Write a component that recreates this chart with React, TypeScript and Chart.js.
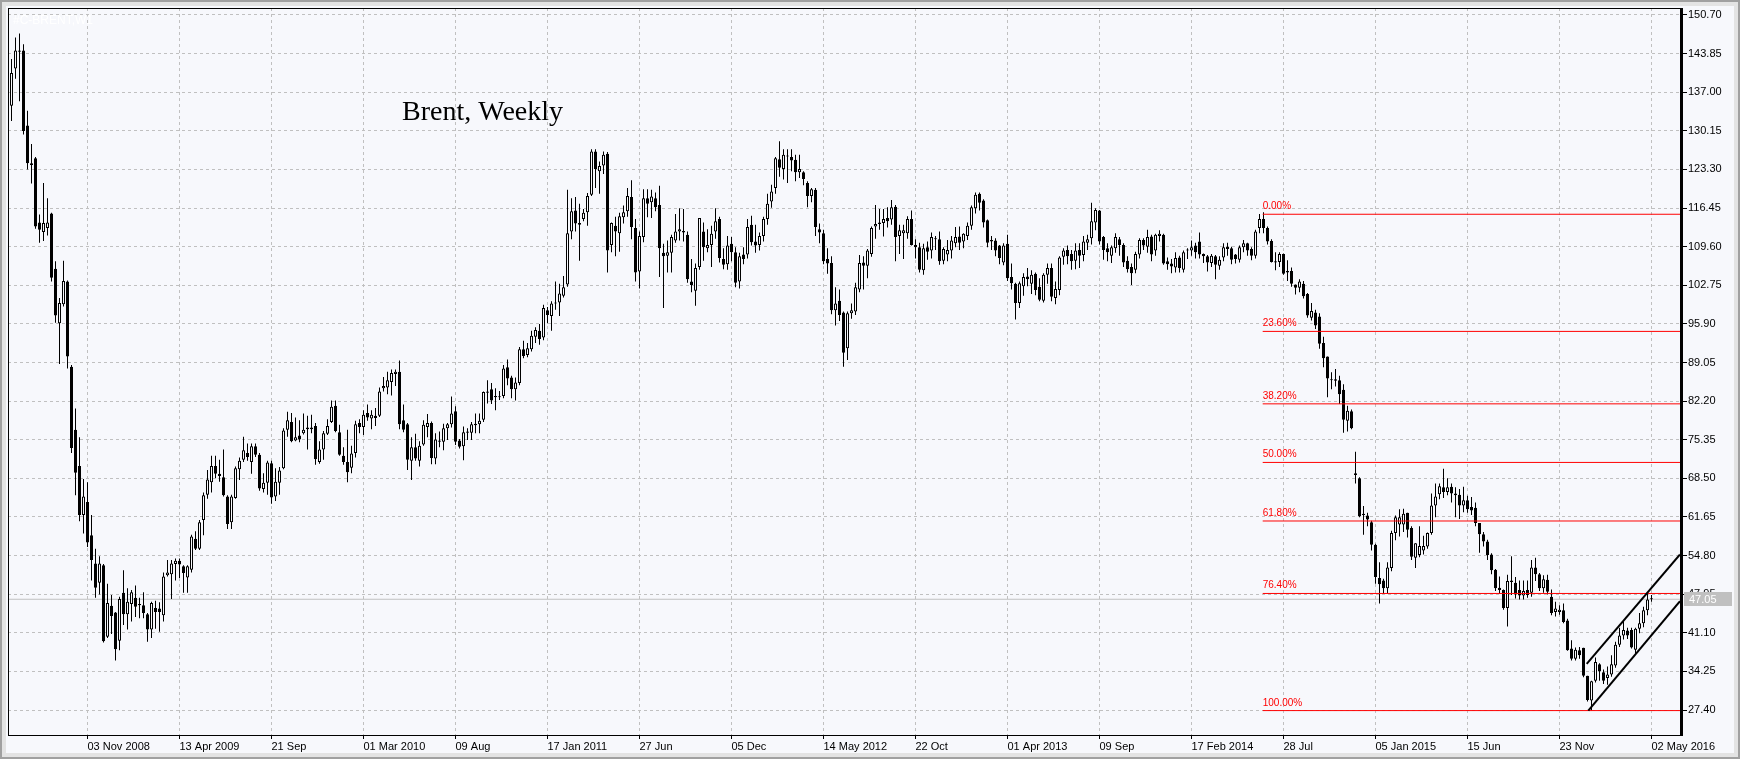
import React, { useEffect, useRef } from "react";
import { Chart, registerables } from "chart.js";

Chart.register(...registerables);

const W = 1740;
const H = 759;
const BG = "#F7F8FC";
const GRID = "#C0C0C0";
const FONT = "'Liberation Sans', Arial, sans-serif";

const TITLE = "Brent, Weekly";
const SYMBOL = "#C-BRENT,W1";

// Weekly candles, bar 0 = week of 23 Jun 2008, last bar = week of 02 May 2016
const OPEN = [
  134.6, 141.2, 144.4, 144.4, 131.1, 124.4, 125.3, 113.9, 112.2, 112.9,
  115.5, 105.7, 96.0, 99.4, 103.4, 88.3, 77.1, 70.7, 62.0, 64.3,
  58.4, 53.4, 50.0, 53.1, 40.4, 45.9, 44.7, 39.7, 48.2, 44.4,
  46.2, 47.3, 46.2, 46.0, 44.4, 41.7, 45.5, 45.4, 44.2, 51.3,
  51.5, 53.3, 53.9, 52.9, 50.9, 52.3, 57.8, 56.0, 61.1, 65.6,
  67.8, 70.7, 69.3, 68.7, 65.3, 60.7, 65.0, 70.1, 71.8, 73.0,
  71.4, 74.2, 72.7, 66.6, 67.7, 71.2, 65.3, 67.7, 70.3, 77.1,
  78.5, 75.2, 76.1, 76.5, 77.5, 77.2, 77.8, 71.4, 73.6, 76.4,
  78.5, 81.4, 76.7, 72.5, 71.4, 70.4, 73.0, 78.3, 77.6, 80.1,
  79.1, 79.6, 79.6, 84.5, 84.6, 85.6, 87.0, 87.4, 78.8, 78.1,
  71.6, 74.0, 71.6, 74.5, 77.6, 78.3, 72.0, 75.2, 75.0, 77.4,
  78.1, 80.4, 75.2, 74.2, 76.6, 76.6, 77.9, 78.1, 78.9, 83.9,
  84.3, 83.1, 82.9, 83.1, 88.2, 86.4, 84.3, 85.4, 91.4, 90.4,
  91.4, 93.6, 94.7, 93.5, 98.3, 97.3, 99.5, 99.7, 100.9, 102.9,
  112.3, 116.0, 113.8, 114.5, 115.7, 118.8, 126.5, 123.0, 124.0, 126.1,
  109.9, 113.3, 112.0, 114.8, 115.9, 118.4, 112.9, 105.2, 111.3, 118.2,
  117.5, 118.2, 117.0, 108.5, 108.0, 108.5, 110.7, 112.3, 112.4, 111.7,
  103.4, 101.8, 106.0, 112.3, 109.3, 109.9, 112.3, 114.5, 107.4, 106.5,
  110.1, 108.6, 103.4, 108.2, 108.2, 113.5, 110.5, 109.9, 111.5, 114.5,
  117.6, 120.0, 125.1, 123.4, 125.7, 125.5, 125.0, 122.8, 122.8, 120.9,
  118.6, 119.7, 112.7, 112.0, 107.4, 106.7, 98.3, 100.0, 97.9, 91.6,
  97.8, 98.1, 102.0, 106.8, 106.2, 108.3, 113.2, 113.9, 113.8, 114.7,
  114.4, 116.7, 111.5, 112.0, 112.0, 114.5, 109.9, 109.5, 105.4, 109.5,
  108.9, 111.1, 110.9, 107.1, 108.2, 108.9, 110.2, 111.4, 110.5, 111.5,
  113.3, 116.4, 119.0, 117.8, 114.3, 110.8, 110.7, 109.8, 106.8, 110.1,
  104.2, 103.0, 99.6, 102.6, 104.3, 103.0, 104.8, 102.5, 100.0, 104.6,
  105.8, 100.5, 101.9, 107.8, 109.0, 108.3, 107.1, 109.0, 108.1, 110.3,
  111.1, 113.9, 116.0, 111.3, 109.3, 108.0, 109.3, 110.9, 109.9, 107.1,
  106.0, 105.5, 108.2, 110.8, 109.6, 111.4, 108.9, 111.5, 111.7, 107.0,
  106.6, 105.9, 107.7, 105.5, 109.0, 108.9, 109.8, 110.5, 108.3, 107.9,
  106.7, 107.9, 106.2, 107.7, 109.6, 109.3, 108.2, 107.3, 109.5, 110.2,
  109.2, 108.0, 112.9, 114.5, 112.9, 110.6, 107.0, 106.9, 108.3, 105.3,
  105.3, 102.9, 102.3, 103.0, 101.2, 97.0, 97.9, 97.2, 92.5, 90.1,
  86.1, 86.1, 85.9, 84.2, 78.7, 80.4, 69.4, 68.5, 62.0, 61.9,
  60.7, 56.7, 50.8, 50.4, 49.0, 52.6, 58.8, 60.3, 60.3, 62.4,
  59.7, 54.4, 54.9, 55.7, 56.4, 58.8, 63.7, 65.7, 66.9, 66.1,
  67.0, 65.8, 65.6, 63.7, 64.6, 63.4, 63.3, 60.6, 58.6, 57.3,
  55.0, 52.3, 49.1, 48.7, 45.5, 50.4, 50.0, 48.7, 47.7, 48.7,
  48.2, 52.7, 51.5, 49.0, 50.5, 47.5, 44.8, 44.8, 45.1, 43.3,
  38.3, 36.5, 38.0, 38.45, 33.5, 29.1, 32.6, 35.5, 34.1, 33.1,
  33.7, 35.3, 39.0, 40.6, 41.5, 41.6, 38.1, 41.8, 42.8, 45.1, 47.1,
];

const HIGH = [
  142.9, 146.7, 147.4, 145.5, 133.7, 127.8, 125.5, 115.3, 120.9, 118.2,
  115.6, 107.0, 100.5, 107.1, 103.6, 88.6, 80.9, 75.8, 68.4, 67.8,
  62.0, 56.0, 54.7, 53.3, 49.8, 47.8, 44.8, 47.5, 52.2, 49.0,
  48.7, 49.5, 47.3, 48.3, 44.6, 46.6, 46.8, 46.5, 51.8, 54.0,
  54.0, 54.3, 54.3, 53.1, 53.1, 58.5, 59.1, 61.1, 66.0, 70.0,
  72.5, 72.5, 71.8, 73.6, 65.5, 65.6, 70.6, 72.2, 75.9, 74.7,
  74.7, 74.7, 73.0, 69.4, 71.6, 71.6, 70.3, 70.5, 77.4, 80.3,
  80.1, 79.3, 78.8, 80.0, 79.6, 79.8, 78.3, 75.1, 76.9, 79.0,
  82.3, 82.3, 78.0, 74.0, 77.1, 74.3, 78.7, 79.0, 80.6, 81.6,
  80.6, 81.0, 84.6, 86.5, 87.4, 87.8, 87.8, 89.4, 81.6, 78.3,
  75.8, 76.4, 75.1, 78.8, 79.9, 78.6, 76.5, 76.8, 78.2, 78.3,
  83.0, 81.3, 75.5, 77.7, 77.4, 78.5, 80.0, 80.0, 83.9, 85.9,
  85.4, 84.5, 84.0, 88.6, 89.6, 86.7, 86.4, 91.8, 92.9, 92.5,
  94.7, 95.3, 95.9, 99.3, 98.9, 99.9, 103.4, 103.0, 104.4, 119.7,
  118.2, 118.4, 117.2, 116.3, 119.1, 126.9, 126.9, 124.7, 126.5, 126.4,
  113.9, 114.9, 115.6, 116.9, 120.0, 121.4, 114.5, 112.3, 119.8, 119.8,
  119.7, 119.2, 120.4, 110.1, 110.7, 111.7, 115.4, 116.4, 116.3, 112.3,
  107.4, 106.6, 114.7, 113.9, 112.7, 113.3, 116.4, 114.9, 109.3, 111.5,
  111.3, 109.5, 108.5, 109.5, 114.5, 115.1, 113.5, 112.1, 114.9, 119.0,
  120.6, 125.5, 128.3, 126.9, 126.9, 126.9, 125.9, 125.9, 123.0, 121.2,
  120.0, 120.0, 113.7, 112.6, 109.3, 107.9, 102.4, 102.0, 98.1, 98.1,
  99.5, 103.2, 108.1, 107.9, 109.2, 113.2, 117.0, 116.3, 116.3, 116.6,
  117.9, 117.0, 113.5, 113.5, 115.0, 116.0, 110.9, 110.3, 110.1, 110.5,
  112.1, 111.5, 112.3, 109.5, 110.8, 111.5, 113.1, 113.2, 112.0, 113.9,
  116.9, 119.2, 119.2, 118.0, 114.4, 111.5, 111.1, 109.9, 110.2, 111.7,
  106.6, 103.2, 103.4, 104.9, 105.8, 105.4, 105.0, 104.0, 104.9, 106.6,
  106.6, 103.4, 107.9, 109.3, 109.8, 109.0, 110.2, 110.2, 111.5, 111.7,
  117.4, 116.4, 116.1, 111.5, 110.2, 109.8, 112.0, 111.3, 110.2, 107.9,
  106.6, 108.7, 111.1, 111.1, 112.6, 111.7, 111.9, 112.5, 111.9, 107.7,
  107.4, 108.6, 108.0, 108.9, 109.3, 110.7, 110.3, 112.1, 108.4, 108.1,
  108.3, 108.1, 107.9, 110.2, 110.3, 109.6, 108.3, 109.8, 110.8, 110.3,
  109.5, 112.6, 115.4, 115.7, 113.2, 110.9, 108.6, 108.6, 108.4, 107.2,
  105.9, 102.9, 103.8, 103.5, 101.4, 99.6, 98.4, 97.8, 93.6, 90.1,
  87.3, 87.9, 86.7, 85.2, 81.4, 80.7, 73.2, 68.7, 63.6, 62.4,
  61.0, 56.9, 53.6, 50.7, 53.6, 59.2, 61.9, 63.0, 63.1, 62.4,
  60.0, 57.0, 60.0, 58.3, 58.9, 65.8, 67.6, 67.6, 70.2, 68.5,
  67.6, 66.9, 66.6, 67.0, 65.4, 65.2, 64.2, 60.6, 59.0, 57.6,
  55.2, 52.4, 51.1, 48.8, 51.4, 54.7, 51.0, 50.4, 50.4, 50.4,
  54.0, 54.4, 51.7, 51.3, 51.4, 48.8, 46.6, 46.0, 46.3, 43.6,
  39.8, 38.5, 38.6, 38.45, 33.5, 32.6, 36.7, 35.7, 34.6, 35.1,
  37.1, 39.5, 42.0, 43.2, 42.0, 42.0, 42.0, 44.6, 45.7, 48.0, 47.8,
];

const LOW = [
  131.9, 139.4, 135.4, 129.5, 123.3, 120.8, 112.8, 110.3, 110.6, 111.6,
  103.4, 96.1, 88.8, 99.0, 88.0, 73.0, 65.5, 60.9, 58.7, 56.3,
  50.4, 47.3, 47.9, 39.4, 40.2, 40.9, 36.2, 38.0, 42.5, 41.7,
  43.1, 43.9, 43.7, 43.7, 39.5, 40.2, 41.8, 41.3, 43.1, 51.1,
  47.1, 50.4, 50.8, 48.2, 48.2, 51.8, 55.8, 55.8, 58.4, 64.9,
  66.0, 68.5, 67.9, 65.3, 59.5, 59.5, 64.9, 68.2, 71.4, 71.6,
  69.3, 72.3, 66.3, 66.0, 65.6, 64.0, 64.5, 65.6, 70.1, 75.9,
  74.9, 75.1, 74.9, 76.3, 73.6, 76.5, 70.9, 71.1, 71.8, 76.2,
  78.3, 76.7, 72.5, 70.9, 67.8, 69.4, 72.2, 76.5, 76.2, 78.7,
  77.2, 77.8, 79.4, 83.9, 83.4, 83.2, 84.9, 77.2, 76.7, 70.0,
  68.2, 71.6, 70.6, 74.3, 75.8, 71.0, 71.0, 74.0, 73.5, 75.3,
  77.5, 74.4, 73.8, 71.7, 75.3, 75.3, 76.5, 76.5, 78.5, 81.8,
  81.7, 80.6, 82.4, 82.7, 85.0, 82.7, 82.3, 85.0, 89.8, 90.0,
  91.0, 92.5, 92.2, 93.0, 96.0, 94.7, 98.4, 97.3, 100.6, 102.5,
  110.9, 112.3, 107.1, 114.1, 113.3, 118.6, 120.0, 119.0, 122.5, 105.0,
  108.6, 107.9, 108.7, 113.7, 114.9, 110.9, 103.4, 102.2, 110.4, 114.8,
  114.7, 115.9, 104.2, 98.7, 105.0, 105.0, 110.3, 110.7, 110.5, 103.2,
  101.5, 99.1, 105.5, 107.1, 108.6, 106.0, 111.0, 106.8, 105.6, 105.5,
  107.0, 102.4, 102.2, 106.5, 107.5, 109.8, 108.5, 108.9, 110.5, 113.5,
  116.5, 119.0, 122.0, 121.5, 120.9, 123.0, 121.2, 121.8, 120.5, 116.6,
  117.5, 111.5, 110.2, 106.5, 104.8, 97.6, 95.6, 96.4, 88.3, 89.5,
  96.8, 97.5, 101.5, 102.0, 104.0, 107.8, 111.0, 112.6, 111.4, 113.0,
  113.5, 107.0, 108.3, 107.4, 111.0, 109.8, 107.5, 105.0, 104.6, 107.3,
  107.5, 109.0, 106.4, 106.5, 107.0, 107.5, 109.5, 109.0, 109.3, 110.8,
  112.6, 115.5, 116.0, 113.0, 109.5, 109.0, 107.9, 106.5, 106.3, 103.5,
  102.0, 96.7, 98.7, 100.9, 102.6, 101.2, 101.0, 99.9, 99.7, 103.0,
  99.9, 99.4, 101.0, 106.4, 106.5, 105.5, 105.6, 105.8, 107.0, 109.0,
  110.0, 112.5, 110.0, 107.3, 107.0, 106.7, 108.5, 108.0, 106.0, 105.0,
  102.8, 104.9, 107.5, 109.0, 108.5, 107.0, 108.0, 110.5, 106.4, 105.5,
  104.9, 105.0, 105.0, 105.0, 107.4, 108.0, 107.5, 107.5, 106.7, 105.2,
  106.0, 103.8, 105.5, 107.0, 108.0, 106.5, 106.6, 106.8, 108.6, 108.0,
  107.2, 107.5, 112.0, 112.0, 110.0, 106.8, 105.4, 106.0, 104.6, 103.5,
  102.5, 101.1, 101.5, 100.4, 97.0, 96.5, 95.0, 91.5, 88.2, 82.9,
  84.3, 84.8, 81.7, 76.6, 76.8, 77.2, 67.6, 61.6, 58.5, 60.0,
  55.7, 49.8, 46.3, 48.0, 48.1, 52.0, 57.5, 58.2, 59.0, 58.0,
  54.0, 52.6, 54.5, 55.0, 56.0, 58.5, 61.6, 64.8, 65.0, 65.5,
  64.2, 61.6, 61.3, 62.5, 62.4, 62.0, 60.0, 55.3, 56.4, 54.0,
  51.5, 48.5, 48.0, 45.2, 42.2, 47.8, 47.2, 47.0, 47.0, 47.3,
  47.5, 50.3, 48.5, 48.2, 47.9, 44.2, 44.0, 44.3, 42.8, 37.9,
  36.2, 36.2, 36.5, 33.2, 28.9, 27.3, 32.3, 32.6, 32.0, 31.9,
  33.3, 34.9, 38.6, 39.9, 40.0, 38.3, 37.4, 41.0, 42.1, 44.2, 46.6,
];

const CLOSE = [
  140.4, 144.4, 144.2, 130.1, 124.4, 124.1, 113.2, 112.6, 113.8, 113.9,
  104.1, 97.4, 99.6, 103.5, 90.1, 73.9, 69.5, 62.0, 65.3, 57.1,
  54.0, 49.1, 53.4, 39.6, 46.4, 44.1, 38.2, 47.1, 44.4, 46.6,
  48.3, 45.7, 46.0, 44.6, 41.7, 46.4, 44.8, 44.8, 51.1, 51.8,
  53.4, 53.9, 53.2, 51.7, 52.9, 58.2, 56.0, 60.7, 65.5, 68.3,
  70.7, 69.3, 68.9, 65.5, 60.4, 65.3, 70.3, 71.6, 73.5, 72.3,
  74.2, 72.7, 66.7, 67.7, 71.3, 65.1, 67.9, 69.9, 77.0, 78.8,
  75.1, 75.8, 75.4, 77.1, 77.2, 77.5, 71.9, 73.6, 76.5, 77.8,
  81.2, 76.9, 72.7, 71.4, 69.6, 72.9, 78.1, 77.6, 79.8, 79.3,
  79.8, 79.2, 83.9, 84.9, 85.9, 87.2, 87.4, 78.1, 77.1, 71.8,
  74.0, 72.0, 74.3, 78.0, 78.3, 72.1, 75.4, 75.0, 77.4, 78.1,
  80.0, 75.0, 74.1, 76.7, 76.8, 78.1, 78.2, 78.7, 83.8, 83.7,
  82.3, 82.9, 83.0, 88.0, 86.2, 84.3, 85.5, 91.4, 90.2, 91.6,
  93.8, 94.8, 93.2, 98.7, 97.5, 99.5, 99.7, 101.3, 102.4, 112.0,
  115.9, 113.7, 113.5, 115.6, 118.6, 126.5, 123.4, 123.9, 125.9, 108.9,
  113.8, 112.3, 115.0, 115.7, 118.6, 113.1, 105.0, 111.5, 118.2, 117.2,
  118.5, 116.6, 109.3, 107.9, 108.6, 111.3, 112.3, 112.7, 112.1, 103.8,
  102.8, 105.8, 114.7, 109.5, 109.9, 111.9, 114.1, 107.6, 106.4, 109.8,
  108.6, 103.2, 107.9, 107.4, 113.1, 110.4, 109.8, 111.5, 114.5, 117.2,
  119.4, 125.3, 123.6, 125.9, 125.6, 124.9, 122.8, 123.4, 121.6, 118.6,
  119.8, 113.1, 112.1, 107.0, 106.6, 98.3, 99.5, 97.5, 90.8, 97.8,
  98.3, 102.4, 106.7, 106.2, 108.9, 112.9, 113.6, 113.6, 114.5, 114.1,
  116.6, 111.3, 112.5, 112.5, 114.5, 109.9, 109.5, 105.5, 109.3, 108.7,
  111.3, 110.9, 107.0, 109.2, 109.0, 110.7, 111.3, 110.3, 111.9, 113.3,
  116.6, 118.8, 117.4, 113.9, 110.3, 110.5, 108.9, 107.6, 109.8, 104.0,
  103.1, 99.6, 103.1, 104.2, 103.8, 104.6, 101.9, 100.2, 104.6, 105.8,
  100.7, 102.1, 107.7, 108.9, 107.9, 107.0, 108.9, 108.0, 110.5, 110.9,
  114.1, 116.1, 110.5, 109.0, 108.6, 109.5, 111.3, 109.9, 106.8, 105.6,
  104.9, 108.3, 110.8, 109.8, 111.3, 108.2, 111.7, 111.9, 106.6, 106.5,
  106.1, 107.6, 105.8, 108.6, 108.9, 109.5, 108.6, 108.2, 107.9, 106.8,
  108.0, 106.4, 107.3, 109.5, 109.2, 107.3, 107.4, 109.5, 110.2, 108.9,
  108.0, 112.3, 114.5, 112.9, 110.5, 106.9, 106.8, 108.3, 104.8, 105.0,
  103.0, 102.3, 103.4, 100.8, 97.4, 98.2, 95.6, 92.4, 89.8, 86.2,
  85.9, 85.8, 83.4, 78.9, 80.5, 77.4, 69.1, 61.8, 62.2, 61.2,
  56.7, 51.0, 49.7, 49.0, 52.7, 58.8, 61.6, 61.6, 62.2, 59.4,
  54.6, 57.0, 56.5, 56.5, 58.8, 63.7, 65.3, 67.1, 66.1, 66.9,
  65.8, 65.5, 63.7, 64.6, 63.0, 62.8, 60.6, 58.6, 57.3, 54.9,
  52.2, 49.0, 48.7, 45.5, 50.3, 50.1, 47.9, 47.7, 48.5, 47.8,
  52.7, 51.5, 49.0, 50.6, 48.4, 44.6, 45.4, 45.2, 43.0, 38.0,
  36.5, 38.1, 37.1, 33.5, 29.2, 32.5, 35.9, 34.3, 32.6, 33.7,
  35.5, 39.0, 40.6, 41.6, 40.6, 38.5, 41.8, 42.8, 45.1, 47.0, 47.05,
];

// Time axis labels (bar index of each labelled week)
const TICK_BARS = [19, 42, 65, 88, 111, 134, 157, 180, 203, 226, 249, 272, 295, 318, 341, 364, 387, 410];
const TICK_LABELS = [
  "03 Nov 2008", "13 Apr 2009", "21 Sep", "01 Mar 2010", "09 Aug", "17 Jan 2011",
  "27 Jun", "05 Dec", "14 May 2012", "22 Oct", "01 Apr 2013", "09 Sep",
  "17 Feb 2014", "28 Jul", "05 Jan 2015", "15 Jun", "23 Nov", "02 May 2016",
];

const Y_TICKS = [
  27.4, 34.25, 41.1, 47.95, 54.8, 61.65, 68.5, 75.35, 82.2, 89.05,
  95.9, 102.75, 109.6, 116.45, 123.3, 130.15, 137.0, 143.85, 150.7,
];

// Fibonacci retracement
const FIB_HIGH = 115.35;
const FIB_LOW = 27.3;
const FIB_RATIOS = [0, 0.236, 0.382, 0.5, 0.618, 0.764, 1];
const FIB_LABELS = ["0.00%", "23.60%", "38.20%", "50.00%", "61.80%", "76.40%", "100.00%"];
const FIB_START = 312.8;

// Rising channel
const CHANNEL_UPPER = [{ x: 393.8, y: 35.6 }, { x: 417.125, y: 55.0 }];
const CHANNEL_LOWER = [{ x: 394.2, y: 27.3 }, { x: 417.125, y: 46.7 }];

const LAST_PRICE = 47.05;

// Axis windows
const X_MIN = -0.875;
const X_MAX = 417.125;
const Y_MIN = 22.97;
const Y_MAX = 151.94;

const fibLevel = (r: number) => FIB_HIGH - r * (FIB_HIGH - FIB_LOW);

const decorPlugin = {
  id: "decor",
  beforeDraw(chart: any) {
    const { ctx } = chart;
    ctx.save();
    ctx.fillStyle = "#A0A0A0";
    ctx.fillRect(0, 0, W, H);
    ctx.fillStyle = "#E3E3E3";
    ctx.fillRect(2, 2, W - 4, H - 4);
    ctx.fillStyle = BG;
    ctx.fillRect(6, 6, W - 12, H - 12);
    ctx.restore();
  },
  afterDraw(chart: any) {
    const { ctx, chartArea: a, scales } = chart;
    const xs = scales.x;
    const ys = scales.y;
    ctx.save();
    // frame
    ctx.fillStyle = "#000000";
    ctx.fillRect(a.left, a.top, a.right - a.left + 3, 1);
    ctx.fillRect(a.left, a.top, 1, a.bottom - a.top);
    ctx.fillRect(a.left, a.bottom, a.right - a.left, 1);
    ctx.fillRect(a.right, a.top, 3, a.bottom - a.top + 1);

    ctx.textAlign = "left";
    ctx.textBaseline = "alphabetic";
    // symbol caption (white)
    ctx.font = "12px " + FONT;
    ctx.fillStyle = "#FFFFFF";
    ctx.fillText(SYMBOL, 13, 24);

    // title
    ctx.font = "28px 'Liberation Serif', 'Times New Roman', serif";
    ctx.fillStyle = "#000000";
    ctx.fillText(TITLE, 402, 119.5);

    // fib labels
    ctx.font = "10px " + FONT;
    ctx.fillStyle = "#FF0000";
    const fx = xs.getPixelForValue(FIB_START);
    FIB_RATIOS.forEach((r, k) => {
      const y = ys.getPixelForValue(fibLevel(r));
      ctx.fillText(FIB_LABELS[k], fx, y - 5);
    });

    // last price box
    const py = ys.getPixelForValue(LAST_PRICE);
    ctx.fillStyle = "#C0C0C0";
    ctx.fillRect(a.right + 4, Math.round(py) - 7, 48, 14);
    ctx.fillStyle = "#FFFFFF";
    ctx.font = "11px " + FONT;
    ctx.textBaseline = "middle";
    ctx.fillText(LAST_PRICE.toFixed(2), a.right + 9, py + 0.5);
    ctx.restore();
  },
};

export default function App() {
  const ref = useRef<HTMLCanvasElement | null>(null);

  useEffect(() => {
    const canvas = ref.current;
    if (!canvas) return;
    const n = Math.min(OPEN.length, HIGH.length, LOW.length, CLOSE.length);
    const idx = Array.from({ length: n }, (_, i) => i);
    const bodies = idx.map((i) => ({ x: i, y: [OPEN[i], CLOSE[i]] }));
    const wicks = idx.map((i) => ({ x: i, y: [LOW[i], HIGH[i]] }));
    const bodyColors = idx.map((i) => (CLOSE[i] >= OPEN[i] ? BG : "#000000"));

    const fibSets = FIB_RATIOS.map((r) => ({
      type: "line" as const,
      data: [
        { x: FIB_START, y: fibLevel(r) },
        { x: X_MAX, y: fibLevel(r) },
      ],
      borderColor: "#FF0000",
      borderWidth: 1,
      pointRadius: 0,
      fill: false,
      order: -1,
    }));

    const gridCommon = {
      color: GRID,
      lineWidth: 1,
      drawTicks: true,
      tickColor: "#000000",
      tickWidth: 1,
      offset: false,
    };

    const chart = new Chart(canvas, {
      type: "bar",
      data: {
        datasets: [
          {
            type: "bar",
            data: bodies as any,
            backgroundColor: bodyColors,
            borderColor: "#000000",
            borderWidth: 1,
            borderSkipped: false,
            barThickness: 3,
            grouped: false,
            minBarLength: 1,
            inflateAmount: 0,
            order: 1,
          } as any,
          {
            type: "bar",
            data: wicks as any,
            backgroundColor: "#000000",
            borderWidth: 0,
            barThickness: 1,
            grouped: false,
            minBarLength: 1,
            inflateAmount: 0,
            order: 2,
          } as any,
          {
            type: "line",
            data: [
              { x: X_MIN, y: LAST_PRICE },
              { x: X_MAX, y: LAST_PRICE },
            ],
            borderColor: "#C0C0C0",
            borderWidth: 1,
            pointRadius: 0,
            fill: false,
            order: 5,
          } as any,
          ...(fibSets as any[]),
          {
            type: "line",
            data: CHANNEL_UPPER,
            borderColor: "#000000",
            borderWidth: 2,
            pointRadius: 0,
            fill: false,
            order: -2,
          } as any,
          {
            type: "line",
            data: CHANNEL_LOWER,
            borderColor: "#000000",
            borderWidth: 2,
            pointRadius: 0,
            fill: false,
            order: -2,
          } as any,
        ],
      },
      options: {
        responsive: false,
        maintainAspectRatio: false,
        animation: false,
        devicePixelRatio: 1,
        events: [],
        layout: { padding: { left: 8, top: 8, right: 0, bottom: 0 } },
        plugins: {
          legend: { display: false },
          tooltip: { enabled: false },
          title: { display: false },
        },
        scales: {
          x: {
            type: "linear",
            min: X_MIN,
            max: X_MAX,
            offset: false,
            afterBuildTicks: (s: any) => {
              s.ticks = TICK_BARS.map((v) => ({ value: v }));
            },
            afterFit: (s: any) => {
              s.height = 24;
            },
            grid: { ...gridCommon, tickLength: 4 },
            border: { display: false, dash: [3, 3] },
            ticks: {
              autoSkip: false,
              maxRotation: 0,
              minRotation: 0,
              align: "start",
              padding: 1,
              color: "#000000",
              font: { family: FONT, size: 11 },
              callback: (_v: any, i: number) => TICK_LABELS[i],
            },
          },
          y: {
            type: "linear",
            position: "right",
            min: Y_MIN,
            max: Y_MAX,
            beginAtZero: false,
            afterBuildTicks: (s: any) => {
              s.ticks = Y_TICKS.map((v) => ({ value: v }));
            },
            afterFit: (s: any) => {
              s.width = 60;
            },
            grid: { ...gridCommon, tickLength: 7 },
            border: { display: false, dash: [3, 3] },
            ticks: {
              padding: 1,
              color: "#000000",
              font: { family: FONT, size: 11 },
              callback: (v: any) => Number(v).toFixed(2),
            },
          },
        } as any,
      },
      plugins: [decorPlugin],
    } as any);

    return () => chart.destroy();
  }, []);

  return (
    <div style={{ position: "fixed", left: 0, top: 0, width: W, height: H, background: BG }}>
      <canvas ref={ref} width={W} height={H} style={{ display: "block", width: W, height: H }} />
    </div>
  );
}
